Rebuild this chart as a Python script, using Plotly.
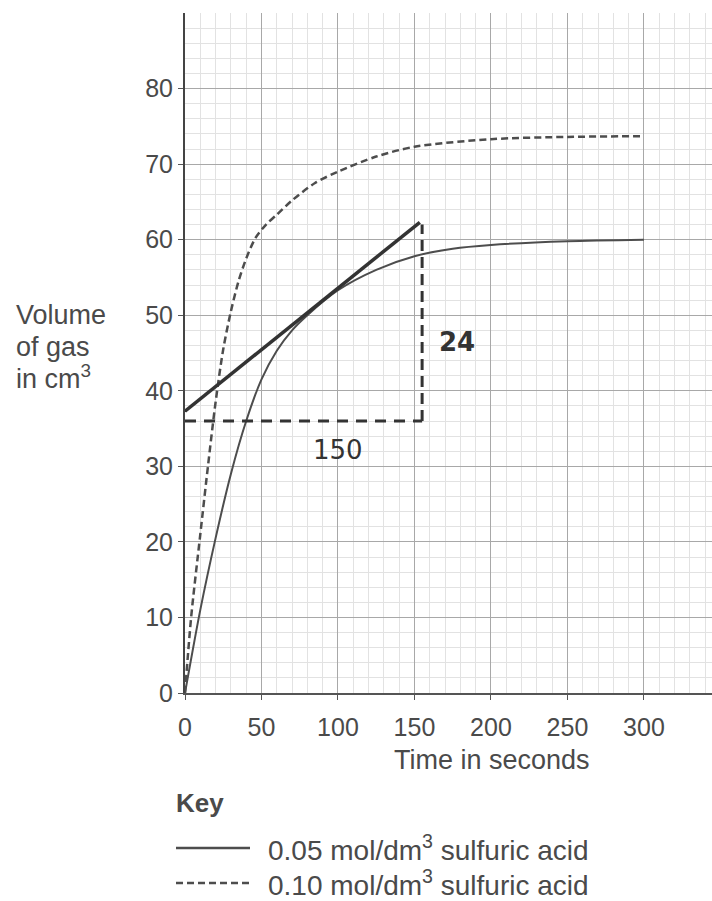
import plotly.graph_objects as go

# ---- data ----
time_005 = [0, 10, 20, 30, 40, 50, 60, 70, 80, 100, 125, 150, 175, 200, 250, 300]
vol_005 = [0, 11, 20.5, 29, 36, 41.5, 45.3, 48, 50, 53.3, 56, 57.8, 58.8, 59.3, 59.8, 60]

time_010 = [0, 4, 10, 15, 20, 25, 30, 35, 40, 46, 53, 60, 70, 85, 100, 125, 150, 200, 250, 300]
vol_010 = [0, 10, 21, 30, 38.5, 45.5, 50.5, 54.5, 57.5, 60.2, 62, 63.3, 65.2, 67.5, 69, 71, 72.3, 73.3, 73.6, 73.7]

# hand-drawn tangent and gradient triangle
tangent_x = [0, 153.5]
tangent_y = [37.3, 62.3]
tri_h_x = [0, 155]
tri_h_y = [36, 36]
tri_v_x = [155, 155]
tri_v_y = [36, 62]

x_ticks = [0, 50, 100, 150, 200, 250, 300]
y_ticks = [0, 10, 20, 30, 40, 50, 60, 70, 80]

label_005 = "0.05 mol/dm<sup>3</sup> sulfuric acid"
label_010 = "0.10 mol/dm<sup>3</sup> sulfuric acid"
y_title_lines = ["Volume", "of gas", "in cm<sup>3</sup>"]

FONT = "Liberation Sans, Arial, sans-serif"
TXT = "#4a4a4a"
INK = "#4d4d4d"

# plot-area geometry (pixels) used to place the key and titles in paper coords
L, R, T, B = 185, 712, 13, 693
def px(xp):
    return (xp - L) / (R - L)
def py(yp):
    return (B - yp) / (B - T)

fig = go.Figure()
fig.add_trace(go.Scatter(x=time_005, y=vol_005, mode="lines", name=label_005, showlegend=False,
                         line=dict(color=INK, width=2, shape="spline", smoothing=0.8)))
fig.add_trace(go.Scatter(x=time_010, y=vol_010, mode="lines", name=label_010, showlegend=False,
                         line=dict(color=INK, width=2.5, dash="7px,4px", shape="spline", smoothing=0.8)))
fig.add_trace(go.Scatter(x=tangent_x, y=tangent_y, mode="lines", showlegend=False,
                         line=dict(color="#333333", width=3.5)))
fig.add_trace(go.Scatter(x=tri_h_x, y=tri_h_y, mode="lines", showlegend=False,
                         line=dict(color="#333333", width=3, dash="11px,8px")))
fig.add_trace(go.Scatter(x=tri_v_x, y=tri_v_y, mode="lines", showlegend=False,
                         line=dict(color="#333333", width=3, dash="11px,6px")))

# handwritten notes
fig.add_annotation(x=100, y=32.2, text="150", showarrow=False,
                   font=dict(family="DejaVu Sans", size=26, color="#333"))
fig.add_annotation(x=178, y=46.5, text="<b>24</b>", showarrow=False,
                   font=dict(family="DejaVu Sans", size=26, color="#333"))

# y-axis title (three lines)
for t, yp in zip(y_title_lines, [315, 347, 377]):
    fig.add_annotation(xref="paper", yref="paper", x=px(14), y=py(yp), xanchor="left", yanchor="middle",
                       text=t, align="left", showarrow=False,
                       font=dict(family=FONT, size=27, color=TXT))
# x-axis title
fig.add_annotation(xref="paper", yref="paper", x=px(492), y=py(760), xanchor="center", yanchor="middle",
                   text="Time in seconds", showarrow=False,
                   font=dict(family=FONT, size=27, color=TXT))

# key
fig.add_annotation(xref="paper", yref="paper", x=px(174), y=py(803), xanchor="left", yanchor="middle",
                   text="<b>Key</b>", showarrow=False, font=dict(family=FONT, size=26, color=TXT))
for lab, yp, dash in [(label_005, 848, None), (label_010, 883, "7px,4px")]:
    fig.add_shape(type="line", xref="paper", yref="paper", x0=px(176), x1=px(250), y0=py(yp), y1=py(yp),
                  line=dict(color=INK, width=2.5, dash=dash) if dash else dict(color=INK, width=2.5))
    fig.add_annotation(xref="paper", yref="paper", x=px(266), y=py(yp), xanchor="left", yanchor="middle",
                       text=lab, showarrow=False, font=dict(family=FONT, size=28, color=TXT))

fig.update_xaxes(range=[0, 344.5], tickvals=x_ticks, ticktext=[str(v) for v in x_ticks],
                 showgrid=True, gridcolor="#a8a8a8", gridwidth=1,
                 minor=dict(dtick=10, tick0=0, showgrid=True, gridcolor="#e2e2e2", gridwidth=1),
                 showline=True, linecolor="#555", linewidth=2,
                 ticks="outside", ticklen=5, tickcolor="#555", zeroline=False,
                 ticklabelstandoff=6,
                 tickfont=dict(family=FONT, size=25, color=TXT))
fig.update_yaxes(range=[0, 90], tickvals=y_ticks,
                 showgrid=True, gridcolor="#a8a8a8", gridwidth=1,
                 minor=dict(dtick=2, tick0=0, showgrid=True, gridcolor="#e2e2e2", gridwidth=1),
                 showline=True, linecolor="#444", linewidth=2,
                 ticks="outside", ticklen=5, tickcolor="#555", zeroline=False,
                 tickfont=dict(family=FONT, size=25, color=TXT))

fig.update_layout(
    width=712, height=901,
    margin=dict(l=L, r=712 - R, t=T, b=901 - B),
    paper_bgcolor="white", plot_bgcolor="white",
    showlegend=False,
)

fig.write_html("out.html")
